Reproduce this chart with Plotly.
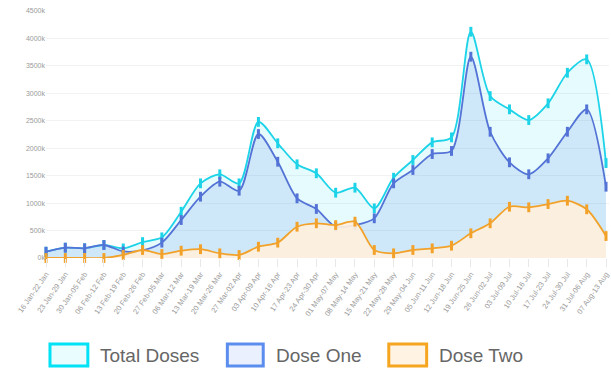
import plotly.graph_objects as go

week_labels = ["16 Jan-22 Jan", "23 Jan-29 Jan", "30 Jan-05 Feb", "06 Feb-12 Feb", "13 Feb-19 Feb",
               "20 Feb-26 Feb", "27 Feb-05 Mar", "06 Mar-12 Mar", "13 Mar-19 Mar", "20 Mar-26 Mar",
               "27 Mar-02 Apr", "03 Apr-09 Apr", "10 Apr-16 Apr", "17 Apr-23 Apr", "24 Apr-30 Apr",
               "01 May-07 May", "08 May-14 May", "15 May-21 May", "22 May-28 May", "29 May-04 Jun",
               "05 Jun-11 Jun", "12 Jun-18 Jun", "19 Jun-25 Jun", "26 Jun-02 Jul", "03 Jul-09 Jul",
               "10 Jul-16 Jul", "17 Jul-23 Jul", "24 Jul-30 Jul", "31 Jul-06 Aug", "07 Aug-13 Aug"]

# values in thousands of doses
total_doses = [115, 188, 177, 237, 175, 290, 377, 843, 1360, 1525, 1360, 2480, 2090, 1707, 1543,
               1190, 1281, 905, 1463, 1785, 2107, 2198, 4122, 2950, 2708, 2513, 2818, 3375, 3619, 1730]
dose_one = [115, 188, 177, 237, 120, 140, 280, 692, 1117, 1390, 1226, 2259, 1754, 1087, 893,
            570, 600, 723, 1360, 1603, 1894, 1950, 3667, 2300, 1743, 1525, 1816, 2300, 2708, 1299]
dose_two = [0, 0, 0, 0, 55, 146, 73, 133, 160, 85, 55, 206, 280, 570, 632,
            600, 662, 146, 85, 146, 176, 224, 450, 632, 934, 923, 983, 1044, 887, 400]

y_ticks = [0, 500, 1000, 1500, 2000, 2500, 3000, 3500, 4000, 4500]
legend_names = ["Total Doses", "Dose One", "Dose Two"]

x = list(range(len(week_labels)))

W_FIG, H_FIG = 611, 369
L, R, T, B = 46, 0, 11, 111
PW = W_FIG - L - R
PH = H_FIG - T - B
X_MAX = (len(x) - 1) * PW / 562.0

series = [
    (total_doses, "#1dd3e8", "rgba(0,215,240,0.10)"),
    (dose_one, "#5473d6", "rgba(70,120,225,0.14)"),
    (dose_two, "#f2a22a", "rgba(255,240,220,0.92)"),
]

fig = go.Figure()
for (vals, lc, fc), name in zip(series, legend_names):
    fig.add_trace(go.Scatter(
        x=x, y=vals, name=name, mode="lines+markers",
        line=dict(color=lc, width=1.8, shape="spline", smoothing=0.8),
        marker=dict(symbol="line-ns", size=7, line=dict(color=lc, width=3)),
        fill="tozeroy", fillcolor=fc, showlegend=False, cliponaxis=False,
    ))

def px_x(p):
    return (p - L) / PW

def px_y(p):
    return (T + PH - p) / PH

legend_items = [
    (50, 88, 98, "#00e2f5", "#e9fcfe"),
    (228, 264, 275, "#5b8def", "#eaf0fd"),
    (390, 428, 438, "#f6a520", "#fff3e4"),
]
for (bx0, bx1, tx, border, fillc), name in zip(legend_items, legend_names):
    fig.add_shape(type="rect", xref="paper", yref="paper",
                  x0=px_x(bx0), x1=px_x(bx1), y0=px_y(366), y1=px_y(344),
                  line=dict(color=border, width=3), fillcolor=fillc)
    fig.add_annotation(xref="paper", yref="paper", x=px_x(tx), y=px_y(355),
                       text=name, showarrow=False, xanchor="left", yanchor="middle",
                       font=dict(family="Liberation Sans, Arial", size=19, color="#666666"))

fig.update_layout(
    width=W_FIG, height=H_FIG,
    margin=dict(l=L, r=R, t=T, b=B),
    paper_bgcolor="white", plot_bgcolor="white",
    font=dict(family="Liberation Sans, Arial", color="#999999"),
    xaxis=dict(range=[0, X_MAX], tickmode="array", tickvals=x, ticktext=week_labels,
               tickangle=-55, tickfont=dict(size=7.5, color="#9a9a9a"),
               ticklabeloverflow="allow",
               showgrid=False, zeroline=False, showline=False,
               ticks="outside", ticklen=8, tickcolor="#e8e8e8"),
    yaxis=dict(range=[0, 4500], tickmode="array", tickvals=y_ticks,
               ticktext=[f"{v}k" for v in y_ticks],
               tickfont=dict(size=7, color="#9a9a9a"),
               showgrid=True, gridcolor="#f2f2f2", zeroline=False, showline=False),
)

fig.write_html("out.html")
